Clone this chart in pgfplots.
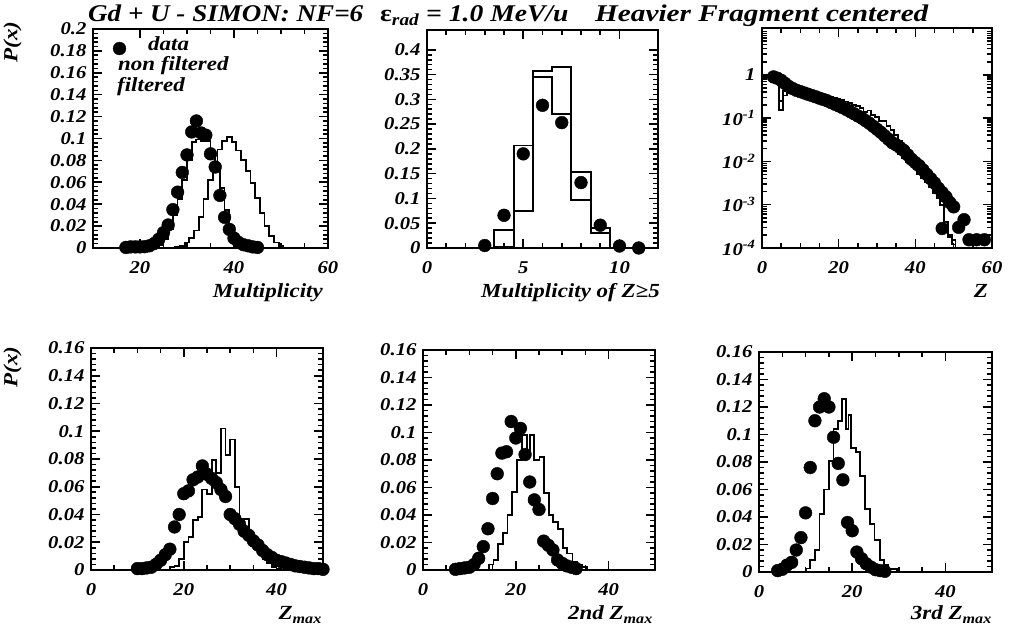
\documentclass[border=0pt]{standalone}
\usepackage{fontspec}
\setmainfont{Liberation Serif}[FakeStretch=1.15]
\usepackage{pgfplots}
\pgfplotsset{compat=1.18}

\newcommand{\tf}{\fontsize{18}{18}\selectfont\bfseries\itshape}
\newcommand{\lf}{\fontsize{20}{20}\selectfont\bfseries\itshape}
\newcommand{\ttf}{\fontsize{24}{24}\selectfont\bfseries\itshape}

\pgfplotsset{
 panel/.style={
  scale only axis, anchor=south west,
  axis line style={line width=2.2pt},
  tick style={black, line width=1.6pt},
  major tick length=9pt, minor tick length=5pt,
  tick align=inside,
  tick label style={font=\tf},
  /pgf/number format/assume math mode=true,
  /pgf/number format/fixed,
  /pgf/number format/precision=2,
  scaled ticks=false,
  xticklabel style={yshift=-10pt},
  yticklabel style={xshift=-3pt},
 },
 hist/.style={const plot, black, line width=1.8pt, no marks, forget plot},
 dots/.style={only marks, mark=*, mark size=6.4pt, black, forget plot},
}

\begin{document}
\begin{tikzpicture}[x=1pt,y=1pt]
\useasboundingbox (0,0) rectangle (1015,642);

% ---------------- Panel 1: Multiplicity
\begin{axis}[panel, at={(93pt,394pt)}, width=235pt, height=219pt,
  xmin=10, xmax=60, ymin=0, ymax=0.2,
  xtick={20,40,60}, minor x tick num=3,
  ytick={0,0.02,0.04,0.06,0.08,0.1,0.12,0.14,0.16,0.18,0.2}, minor y tick num=4,
  legend style={draw=none, fill=none, inner sep=0pt, font=\lf, nodes={inner sep=0pt},
    at={(axis cs:14.2,0.1845)}, anchor=west}]
\addplot[hist] coordinates {
(22.5,0) (23,0.001) (24,0.003) (25,0.008) (26,0.017) (27,0.03) (28,0.045) (29,0.062)
(30,0.08) (31,0.097) (32,0.099) (33,0.098) (34,0.098) (35,0.088) (36,0.075) (37,0.055)
(38,0.035) (39,0.02) (40,0.01) (41,0.004) (42,0.001) (43,0) };
\addplot[hist] coordinates {
(27.5,0) (27.5,0.001) (28.5,0.002) (29.5,0.005) (30.5,0.009) (31.5,0.016) (32.5,0.028)
(33.5,0.045) (34.5,0.062) (35.5,0.078) (36.5,0.09) (37.5,0.098) (38.5,0.101) (39.5,0.097)
(40.5,0.089) (41.5,0.08) (42.5,0.07) (43.5,0.059) (44.5,0.046) (45.5,0.032) (46.5,0.02)
(47.5,0.011) (48.5,0.005) (49.5,0.0015) (50.5,0) };
\addplot[dots] coordinates {
(17,0.0005) (18,0.001) (19,0.001) (20,0.001) (21,0.0012) (22,0.002) (23,0.004) (24,0.008)
(25,0.014) (26,0.021) (27,0.035) (28,0.051) (29,0.069) (30,0.085) (31,0.106) (32,0.116)
(33,0.105) (34,0.103) (35,0.086) (36,0.074) (37,0.048) (38,0.028) (39,0.017) (40,0.009)
(41,0.005) (42,0.003) (43,0.002) (44,0.001) (45,0.0005) };
\addlegendimage{legend image code/.code={\fill[black] (6.4pt,-4pt) circle (6.4pt); \path[draw=none] (0pt,0pt) -- (35pt,0pt);}}
\addlegendentry{data}
\node[anchor=base west, inner sep=0pt, font=\lf] at (axis cs:15.3,0.1620) {non filtered};
\node[anchor=base west, inner sep=0pt, font=\lf] at (axis cs:15.1,0.1425) {filtered};
\end{axis}

% ---------------- Panel 2: Multiplicity of Z>=5
\begin{axis}[panel, at={(427pt,394pt)}, width=231pt, height=218pt,
  xmin=0, xmax=12, ymin=0, ymax=0.44,
  xtick={0,5,10}, minor x tick num=4,
  ytick={0,0.05,0.1,0.15,0.2,0.25,0.3,0.35,0.4}, minor y tick num=4]
\addplot[hist] coordinates {
(2.5,0) (3.5,0.037) (4.5,0.207) (5.5,0.345) (6.5,0.27) (7.5,0.097) (8.5,0.031) (9.5,0) (10.5,0) };
\addplot[hist] coordinates {
(2.5,0) (3.5,0.002) (4.5,0.075) (5.5,0.357) (6.5,0.365) (7.5,0.153) (8.5,0.04) (9.5,0) };
\addplot[dots] coordinates {
(3,0.005) (4,0.066) (5,0.19) (6,0.288) (7,0.253) (8,0.132) (9,0.046) (10,0.004) (11,0.0) };
\end{axis}

% ---------------- Panel 3: Z (log)
\begin{axis}[panel, at={(762pt,394pt)}, width=230pt, height=220pt,
  xmin=0, xmax=60, ymode=log, ymin=1e-4, ymax=12,
  xtick={0,20,40,60}, minor x tick num=3,
  ytick={1e-4,1e-3,1e-2,1e-1,1},
  yticklabels={10\textsuperscript{-4},10\textsuperscript{-3},10\textsuperscript{-2},10\textsuperscript{-1},1},
  minor ytick={2e-4,3e-4,4e-4,5e-4,6e-4,7e-4,8e-4,9e-4,
               2e-3,3e-3,4e-3,5e-3,6e-3,7e-3,8e-3,9e-3,
               2e-2,3e-2,4e-2,5e-2,6e-2,7e-2,8e-2,9e-2,
               0.2,0.3,0.4,0.5,0.6,0.7,0.8,0.9,2,3,4,5,6,7,8,9,10}]
\addplot[hist] coordinates {
(0,1.0) (2.5,0.85) (3.5,0.75) (4.5,0.25) (5.5,0.42) (6.5,0.44) (7.5,0.42) (8.5,0.40)
(9.5,0.39) (10.5,0.38) (11.5,0.37) (12.5,0.36) (13.5,0.35) (14.5,0.34) (15.5,0.33)
(16.5,0.32) (17.5,0.30) (18.5,0.29) (19.5,0.27) (20.5,0.26) (21.5,0.24) (22.5,0.22)
(23.5,0.20) (24.5,0.19) (25.5,0.17) (26.5,0.14) (27.5,0.15) (28.5,0.12) (29.5,0.105)
(30.5,0.085) (31.5,0.085) (32.5,0.065) (33.5,0.052) (34.5,0.04) (35.5,0.03) (36.5,0.023)
(37.5,0.017) (38.5,0.012) (39.5,0.009) (40.5,0.0072) (41.5,0.0055) (42.5,0.0042)
(43.5,0.0032) (44.5,0.0024) (45.5,0.0018) (46.5,0.0012) (47.5,0.0004) (48.5,0.0002)
(49.5,0.00015) (50.5,0.0001) (52,0.0001) };
\addplot[hist] coordinates {
(0,1.0) (0.5,0.95) (1.5,0.9) (2.5,0.8) (3.5,0.65) (4.5,0.155) (5.5,0.33) (6.5,0.38)
(7.5,0.40) (8.5,0.38) (9.5,0.36) (10.5,0.34) (11.5,0.32) (12.5,0.30) (13.5,0.28)
(14.5,0.265) (15.5,0.25) (16.5,0.23) (17.5,0.215) (18.5,0.195) (19.5,0.178) (20.5,0.16)
(21.5,0.145) (22.5,0.13) (23.5,0.115) (24.5,0.10) (25.5,0.088) (26.5,0.077) (27.5,0.066)
(28.5,0.056) (29.5,0.047) (30.5,0.04) (31.5,0.033) (32.5,0.027) (33.5,0.022) (34.5,0.018)
(35.5,0.015) (36.5,0.012) (37.5,0.0098) (38.5,0.008) (39.5,0.0065) (40.5,0.0052)
(41.5,0.0042) (42.5,0.0033) (43.5,0.0025) (44.5,0.0019) (45.5,0.0014) (46.5,0.001)
(47.5,0.00025) (48.5,0.00018) (49.5,0.00012) (50.5,0.0001) (51.5,0.0001) };
\addplot[dots] coordinates {
(3,0.891) (4,0.832) (5,0.741) (6,0.631) (7,0.537) (8,0.479) (9,0.437) (10,0.407)
(11,0.380) (12,0.355) (13,0.331) (14,0.309) (15,0.288) (16,0.269) (17,0.251) (18,0.229)
(19,0.209) (20,0.191) (21,0.174) (22,0.158) (23,0.141) (24,0.126) (25,0.112) (26,0.100)
(27,0.0871) (28,0.0759) (29,0.0646) (30,0.0550) (31,0.0468) (32,0.0389) (33,0.0324)
(34,0.0269) (35,0.0240) (36,0.0209) (37,0.0178) (38,0.0141) (39,0.0112) (40,0.00933)
(41,0.00794) (42,0.00631) (43,0.00501) (44,0.00398) (45,0.00316) (46,0.00240)
(47,0.00191) (48,0.00151) (49,0.00112) (50,0.000891)
(47,0.000282) (51.3,0.0003) (52.7,0.00045) (54,0.000155) (56,0.000155) (58,0.000155) };
\end{axis}

% ---------------- Panel 4: Zmax
\begin{axis}[panel, at={(91pt,72pt)}, width=232pt, height=222pt,
  xmin=0, xmax=50, ymin=0, ymax=0.16,
  xtick={0,20,40}, minor x tick num=3,
  ytick={0,0.02,0.04,0.06,0.08,0.1,0.12,0.14,0.16}, minor y tick num=4]
\addplot[hist] coordinates {
(16,0) (17,0.002) (18,0.003) (19,0.008) (20,0.02) (21,0.024) (22,0.036) (23,0.038)
(24,0.058) (25,0.055) (26,0.079) (27,0.07) (28,0.102) (29,0.083) (30,0.094) (31,0.06)
(32,0.037) (33,0.037) (34,0.026) (35,0.018) (36,0.012) (37,0.008) (38,0.005) (39,0.002)
(40,0.001) (41,0) };
\addplot[dots] coordinates {
(10,0.001) (11,0.001) (12,0.0015) (13,0.002) (14,0.004) (15,0.007) (16,0.011) (17,0.015)
(18,0.031) (19,0.04) (20,0.055) (21,0.057) (22,0.065) (23,0.067) (24,0.075) (25,0.069)
(26,0.066) (27,0.063) (28,0.058) (29,0.053) (30,0.04) (31,0.037) (32,0.033) (33,0.028)
(34,0.025) (35,0.021) (36,0.018) (37,0.014) (38,0.011) (39,0.009) (40,0.007) (41,0.006)
(42,0.005) (43,0.004) (44,0.003) (45,0.0025) (46,0.002) (47,0.0015) (48,0.001) (49,0.001)
(50,0.0005) };
\end{axis}

% ---------------- Panel 5: 2nd Zmax
\begin{axis}[panel, at={(423pt,72pt)}, width=232pt, height=220pt,
  xmin=0, xmax=50, ymin=0, ymax=0.16,
  xtick={0,20,40}, minor x tick num=3,
  ytick={0,0.02,0.04,0.06,0.08,0.1,0.12,0.14,0.16}, minor y tick num=4]
\addplot[hist] coordinates {
(13.5,0) (14.2,0.004) (15.2,0.007) (16.2,0.019) (17.2,0.027) (18.2,0.04) (19.2,0.057)
(20.2,0.08) (21.3,0.098) (22.4,0.082) (23,0.098) (24,0.08) (25.1,0.082) (26.1,0.056)
(27.1,0.04) (28.1,0.035) (29.1,0.03) (30.1,0.016) (31.1,0.012) (32.2,0.006) (33.2,0.004)
(34.2,0.002) (35.4,0) };
\addplot[dots] coordinates {
(7,0.0005) (8,0.001) (9,0.0015) (10,0.002) (11,0.004) (12,0.0085) (13,0.017) (14,0.03)
(15,0.052) (16,0.07) (17,0.085) (18,0.086) (19,0.108) (20,0.096) (21,0.103) (22,0.084)
(23,0.064) (24,0.051) (25,0.044) (26,0.021) (27,0.018) (28,0.0145) (29,0.0073) (30,0.0048)
(31,0.003) (32,0.002) (33,0.001) };
\end{axis}

% ---------------- Panel 6: 3rd Zmax
\begin{axis}[panel, at={(759pt,70pt)}, width=233pt, height=220pt,
  xmin=0, xmax=50, ymin=0, ymax=0.16,
  xtick={0,20,40}, minor x tick num=3,
  ytick={0,0.02,0.04,0.06,0.08,0.1,0.12,0.14,0.16}, minor y tick num=4]
\addplot[hist] coordinates {
(9,0) (10,0.0025) (11,0.0085) (12,0.016) (13,0.042) (14,0.06) (15,0.081) (16,0.104)
(17,0.11) (17.8,0.126) (18.6,0.104) (19.2,0.114) (19.8,0.09) (20.8,0.087) (21.7,0.07)
(22.8,0.046) (23.9,0.035) (24.8,0.023) (25.9,0.0085) (26.9,0.005) (27.8,0.002) (29.6,0) };
\addplot[dots] coordinates {
(4,0.001) (5,0.002) (6,0.005) (7,0.007) (8,0.016) (9,0.025) (10,0.043) (11,0.076)
(12,0.11) (13,0.12) (14,0.126) (15,0.12) (16,0.098) (17,0.079) (18,0.067) (19,0.036)
(20,0.03) (21,0.0145) (22,0.0097) (23,0.006) (24,0.0036) (25,0.0017) (26,0.001) (27,0.0005) };
\end{axis}

% ---------------- texts
\node[anchor=base west, inner sep=0pt, font=\ttf] at (88,620) {\scalebox{0.98}[1]{Gd + U - SIMON: NF=6}};
\node[anchor=base west, inner sep=0pt, font=\ttf] at (380,620) {{\upshape ε}\textsubscript{rad} = 1.0 MeV/u};
\node[anchor=base west, inner sep=0pt, font=\ttf] at (595,620) {\scalebox{1.06}[1]{Heavier Fragment centered}};

\node[rotate=90, inner sep=0pt, font=\lf] at (12.5,600) {P(x)};
\node[rotate=90, inner sep=0pt, font=\lf] at (12.5,275) {P(x)};

\node[anchor=base east, inner sep=0pt, font=\lf] at (323,344) {Multiplicity};
\node[anchor=base east, inner sep=0pt, font=\lf] at (660,344) {Multiplicity of Z≥5};
\node[anchor=base east, inner sep=0pt, font=\lf] at (988,344) {Z};
\node[anchor=base east, inner sep=0pt, font=\lf] at (322,22) {Z\textsubscript{max}};
\node[anchor=base east, inner sep=0pt, font=\lf] at (653,22) {2nd Z\textsubscript{max}};
\node[anchor=base east, inner sep=0pt, font=\lf] at (992,22) {3rd Z\textsubscript{max}};
\end{tikzpicture}
\end{document}
